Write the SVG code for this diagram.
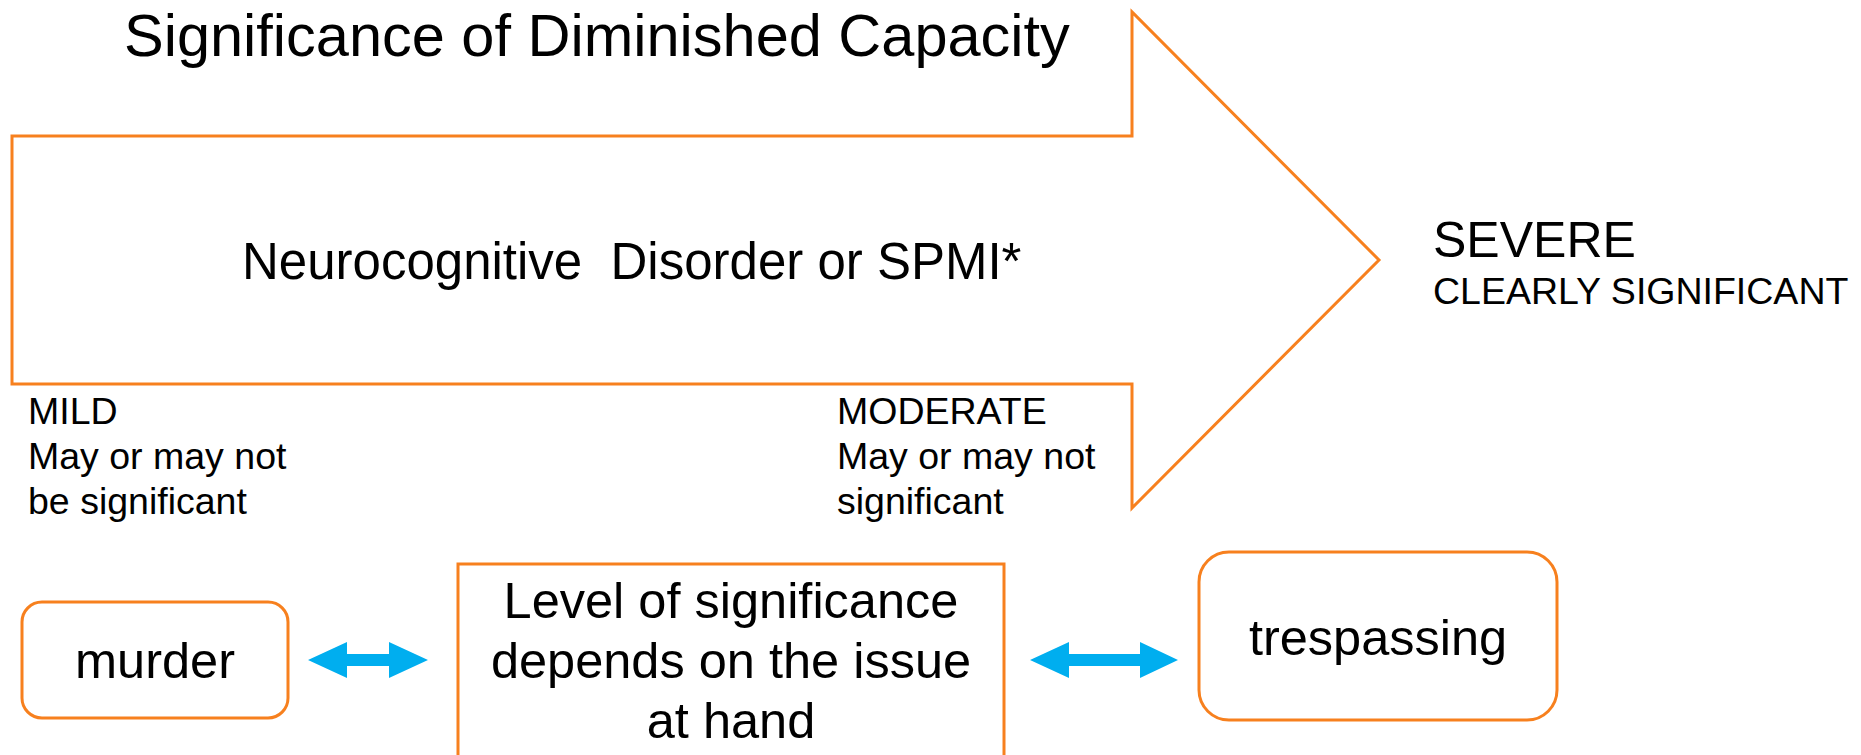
<svg xmlns="http://www.w3.org/2000/svg" width="1861" height="755" viewBox="0 0 1861 755">
<style>
text{font-family:"Liberation Sans",Arial,sans-serif;fill:#000}
.ob{fill:#fff;stroke:#F7801E;stroke-width:3}
.blue{fill:#00AEEF}
.lbl{font-size:37.5px}
.box{font-size:50.5px;text-anchor:middle}
</style>
<rect width="1861" height="755" fill="#fff"/>
<g id="title"><text x="124" y="56" style="font-size:59.5px">Significance of Diminished Capacity</text></g>
<g id="big-arrow">
<path class="ob" d="M12,136 L1132,136 L1132,12 L1379,260 L1132,508 L1132,384 L12,384 Z"/>
<text x="242" y="279" style="font-size:51px" xml:space="preserve">Neurocognitive  Disorder or SPMI*</text>
</g>
<g id="severe">
<text x="1433" y="257" style="font-size:50px">SEVERE</text>
<text x="1433" y="304" class="lbl">CLEARLY SIGNIFICANT</text>
</g>
<g id="mild">
<text x="28" y="424" class="lbl">MILD</text>
<text x="28" y="469" class="lbl">May or may not</text>
<text x="28" y="514" class="lbl">be significant</text>
</g>
<g id="moderate">
<text x="837" y="424" class="lbl">MODERATE</text>
<text x="837" y="469" class="lbl">May or may not</text>
<text x="837" y="514" class="lbl">significant</text>
</g>
<g id="murder">
<rect class="ob" x="22" y="602" width="266" height="116" rx="20"/>
<text x="155" y="678" class="box">murder</text>
</g>
<g id="level">
<rect class="ob" x="458" y="564" width="546" height="200"/>
<text x="731" y="618" class="box">Level of significance</text>
<text x="731" y="678" class="box">depends on the issue</text>
<text x="731" y="738" class="box">at hand</text>
</g>
<g id="trespassing">
<rect class="ob" x="1199" y="552" width="358" height="168" rx="30"/>
<text x="1378" y="655" class="box">trespassing</text>
</g>
<g id="connectors">
<path class="blue" d="M308,660 L347,642 L347,654 L389,654 L389,642 L428,660 L389,678 L389,666 L347,666 L347,678 Z"/>
<path class="blue" d="M1030,660 L1069,642 L1069,654 L1140,654 L1140,642 L1178,660 L1140,678 L1140,666 L1069,666 L1069,678 Z"/>
</g>
</svg>
